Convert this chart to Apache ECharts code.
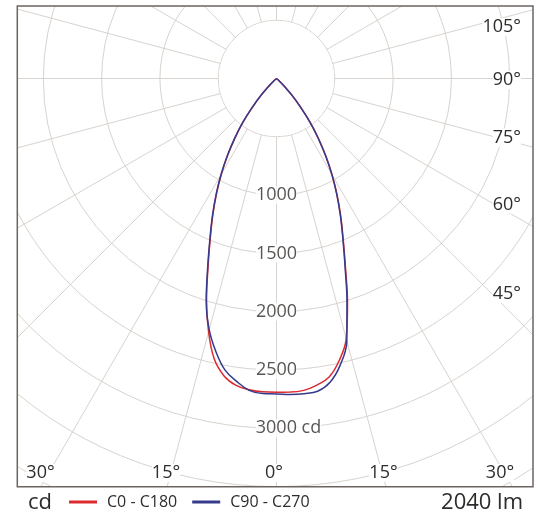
<!DOCTYPE html>
<html>
<head>
<meta charset="utf-8">
<script src="https://cdn.jsdelivr.net/npm/echarts@6/dist/echarts.min.js"></script>
<style>
html,body{margin:0;padding:0;background:#fff;}
#chart{width:539px;height:524px;}
</style>
</head>
<body>
<div id="chart"></div>
<script>
// ---- data ----
const gammas = [0, 2.5, 5, 7.5, 10, 12.5, 15, 17.5, 20, 22.5, 25, 27.5, 30, 32.5, 35, 37.5, 40, 42.5, 45, 47.5, 50, 52.5];
const c0   = [2690, 2692, 2685, 2652, 2600, 2480, 2310, 2025, 1730, 1495, 1303, 1125, 954, 787, 625, 476, 322, 204, 100, 40, 10, 0];
const c180 = [2690, 2690, 2680, 2655, 2590, 2465, 2250, 1995, 1716, 1485, 1293, 1115, 944, 779, 619, 472, 320, 202, 100, 40, 10, 0];
const c90  = [2705, 2712, 2713, 2705, 2645, 2520, 2330, 2010, 1720, 1488, 1296, 1118, 947, 781, 620, 473, 320, 202, 100, 40, 10, 0];
const c270 = [2705, 2705, 2685, 2620, 2540, 2400, 2230, 2005, 1726, 1493, 1300, 1122, 951, 785, 624, 475, 322, 204, 100, 40, 10, 0];
const seriesNames = ['C0 - C180', 'C90 - C270'];
const ringLabels = [1000, 1500, 2000, 2500, 3000];
const radiusUnit = 'cd';
const rightAngleLabels = ['105°', '90°', '75°', '60°', '45°'];
const bottomAngleLabels = ['30°', '15°', '0°', '15°', '30°'];
const fluxLabel = '2040 lm';

// ---- layout ----
const cx = 276.5, cy = 78.5, pxPer500 = 58.3;
const k = pxPer500 / 500;
const rMax = 4500;
const FONT = "'Open Sans', 'Noto Sans', sans-serif";
const TXT = '#2e2c2a';
const GRID = '#d8d3ce';
const frame = {x: 17.3, y: 6, w: 515.7, h: 480.7};

function curve(left, right) {
  const pts = [];
  for (let i = gammas.length - 1; i >= 1; i--) pts.push([left[i], -gammas[i]]);
  for (let i = 0; i < gammas.length; i++) pts.push([right[i], gammas[i]]);
  return pts;
}

const chart = echarts.init(document.getElementById('chart'), null, {renderer: 'canvas'});

const rightY = [27, 80, 137.5, 204.5, 294];
const bottomX = [40.5, 166, 274, 383.5, 500];
const labelStyle = (text, x, y, align) => ({
  type: 'text', z: 6,
  style: {text, x, y, align, verticalAlign: 'middle', font: '18px ' + FONT, fill: TXT,
          backgroundColor: '#fff'}
});

const graphics = [
  {type: 'circle', z: 1, shape: {cx, cy, r: pxPer500 - 0.6}, style: {fill: '#fff'}},
  {type: 'rect', z: 3, shape: {x: 0, y: 0, width: 539, height: frame.y}, style: {fill: '#fff'}},
  {type: 'rect', z: 3, shape: {x: 0, y: 0, width: frame.x, height: 524}, style: {fill: '#fff'}},
  {type: 'rect', z: 3, shape: {x: frame.x + frame.w, y: 0, width: 20, height: 524}, style: {fill: '#fff'}},
  {type: 'rect', z: 3, shape: {x: 0, y: frame.y + frame.h, width: 539, height: 60}, style: {fill: '#fff'}},
  {type: 'rect', z: 4, shape: {x: frame.x, y: frame.y, width: frame.w, height: frame.h},
   style: {fill: 'none', stroke: '#6b6460', lineWidth: 1.5}},
  {type: 'text', z: 6, style: {text: radiusUnit, x: 28, y: 503, verticalAlign: 'middle',
   font: '22px ' + FONT, fill: TXT}},
  {type: 'text', z: 6, style: {text: fluxLabel, x: 523, y: 503, align: 'right', verticalAlign: 'middle',
   font: '22px ' + FONT, fill: TXT}}
];
rightAngleLabels.forEach((t, i) => graphics.push(labelStyle(t, 521, rightY[i], 'right')));
bottomAngleLabels.forEach((t, i) => graphics.push(labelStyle(t, bottomX[i], 473, 'center')));

chart.setOption({
  animation: false,
  backgroundColor: '#fff',
  polar: {center: [cx, cy], radius: rMax * k},
  angleAxis: {
    type: 'value', min: -180, max: 180, interval: 15, startAngle: 90, clockwise: false, z: 0,
    axisLine: {show: false}, axisTick: {show: false}, axisLabel: {show: false},
    splitLine: {show: true, lineStyle: {color: GRID, width: 1}}
  },
  radiusAxis: {
    type: 'value', min: 0, max: rMax, interval: 500, z: 0,
    axisLine: {show: false}, axisTick: {show: false}, axisLabel: {show: false},
    splitLine: {show: true, lineStyle: {color: GRID, width: 1}}
  },
  legend: {
    left: 69, top: 494, padding: 0, itemWidth: 28, itemHeight: 3, itemGap: 15, icon: 'rect', z: 6,
    data: seriesNames,
    textStyle: {fontFamily: FONT, fontSize: 16, color: TXT, padding: [0, 0, 0, 5]}
  },
  graphic: {elements: graphics},
  series: [
    {name: seriesNames[0], type: 'line', coordinateSystem: 'polar', data: curve(c180, c0),
     smooth: 0.4, showSymbol: false, symbol: 'none', z: 2,
     lineStyle: {color: '#dc2a2e', width: 1.5}, itemStyle: {color: '#dc2a2e'}},
    {name: seriesNames[1], type: 'line', coordinateSystem: 'polar', data: curve(c270, c90),
     smooth: 0.4, showSymbol: false, symbol: 'none', z: 2,
     lineStyle: {color: '#363a8c', width: 1.5}, itemStyle: {color: '#363a8c'}},
    {type: 'scatter', coordinateSystem: 'polar', z: 5, symbolSize: 1, silent: true,
     itemStyle: {color: 'rgba(0,0,0,0)'},
     data: ringLabels.map(v => [v, 0]),
     label: {show: true, position: 'inside', fontFamily: FONT, fontSize: 18, color: TXT,
       backgroundColor: '#fff', padding: 0,
       formatter: p => p.value[0] === ringLabels[ringLabels.length - 1] ? p.value[0] + ' ' + radiusUnit : String(p.value[0])},
     labelLayout: p => p.dataIndex === ringLabels.length - 1 ? {dx: 12} : {}
    }
  ]
});
</script>
</body>
</html>
